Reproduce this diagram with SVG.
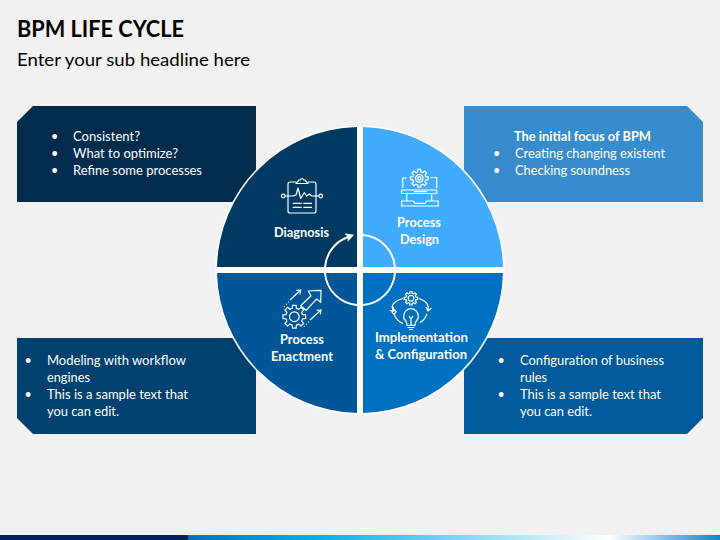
<svg xmlns="http://www.w3.org/2000/svg" xmlns:xlink="http://www.w3.org/1999/xlink" width="720" height="540" viewBox="0 0 720 540">
<style>
text{font-family:"Lato","Carlito","Open Sans",sans-serif;fill:#fff}
.title{font-size:22px;font-weight:700;fill:#000}
.sub{font-size:16.6px;fill:#000}
.t{font-size:12.6px}
.tb{font-size:12.6px;font-weight:700}
.l{font-size:12.6px;font-weight:700}
.ring{fill:none;stroke:#fff;stroke-width:2}
.ic{fill:none;stroke:#fff;stroke-width:1.2;stroke-linejoin:round}
.dot{fill:none;stroke:#fff;stroke-width:1.2;stroke-dasharray:1 2}
.g{fill:none;stroke:#fff;stroke-width:1.2;vector-effect:non-scaling-stroke}
</style>
<defs>
<linearGradient id="bar" x1="188" y1="0" x2="720" y2="0" gradientUnits="userSpaceOnUse">
<stop offset="0" stop-color="#0070c0"/>
<stop offset="0.24" stop-color="#00b0f0"/>
<stop offset="0.79" stop-color="#ffffff"/>
<stop offset="1" stop-color="#0e85d0"/>
</linearGradient>
<marker id="arrow" markerUnits="userSpaceOnUse" markerWidth="10" markerHeight="10" refX="2" refY="5" orient="auto">
<path d="M0 0.6L8.5 5L0 9.4L1.8 5Z" fill="#fff"/>
</marker>
<marker id="mini" markerUnits="userSpaceOnUse" markerWidth="7" markerHeight="7" refX="5" refY="3.5" orient="auto">
<path d="M1.5 0.8L5 3.5L1.5 6.2" fill="none" stroke="#fff" stroke-width="1.1"/>
</marker>
<g id="gear">
<path class="g" d="M7.28-1.81L9.88-1.56L9.88 1.56L7.28 1.81L6.43 3.86L8.09 5.88L5.88 8.09L3.86 6.43L1.81 7.28L1.56 9.88L-1.56 9.88L-1.81 7.28L-3.86 6.43L-5.88 8.09L-8.09 5.88L-6.43 3.86L-7.28 1.81L-9.88 1.56L-9.88-1.56L-7.28-1.81L-6.43-3.86L-8.09-5.88L-5.88-8.09L-3.86-6.43L-1.81-7.28L-1.56-9.88L1.56-9.88L1.81-7.28L3.86-6.43L5.88-8.09L8.09-5.88L6.43-3.86Z"/>
<circle class="g" r="4.2"/>
</g>
</defs>
<rect width="720" height="540" fill="#f1f1f1"/>
<g id="header">
<text class="title" x="17" y="37" textLength="167" lengthAdjust="spacingAndGlyphs">BPM LIFE CYCLE</text>
<text class="sub" x="17" y="65.5" textLength="233" lengthAdjust="spacingAndGlyphs">Enter your sub headline here</text>
</g>
<g id="box-top-left">
<path d="M33 106H256V202H17V122Z" fill="#012c4e"/>
<text class="t" x="51" y="140.500">•</text><text class="t" x="51" y="157.500">•</text><text class="t" x="51" y="174.500">•</text>
<text class="t" x="73" y="140.500" textLength="67" lengthAdjust="spacingAndGlyphs">Consistent?</text>
<text class="t" x="73" y="157.500" textLength="105" lengthAdjust="spacingAndGlyphs">What to optimize?</text>
<text class="t" x="73" y="174.500" textLength="129" lengthAdjust="spacingAndGlyphs">Refine some processes</text>
</g>
<g id="box-top-right">
<path d="M464 106H687L703 122V202H464Z" fill="#368ccc"/>
<text class="tb" x="514" y="140.500" textLength="137" lengthAdjust="spacingAndGlyphs">The initial focus of BPM</text>
<text class="t" x="493" y="157.500">•</text><text class="t" x="493" y="174.500">•</text>
<text class="t" x="515" y="157.500" textLength="150" lengthAdjust="spacingAndGlyphs">Creating changing existent</text>
<text class="t" x="515" y="174.500" textLength="115" lengthAdjust="spacingAndGlyphs">Checking soundness</text>
</g>
<g id="box-bottom-left">
<path d="M17 338H256V434H33L17 418Z" fill="#004170"/>
<text class="t" x="24.500" y="365">•</text><text class="t" x="24.500" y="399">•</text>
<text class="t" x="47" y="365" textLength="139" lengthAdjust="spacingAndGlyphs">Modeling with workflow</text>
<text class="t" x="47" y="382" textLength="43" lengthAdjust="spacingAndGlyphs">engines</text>
<text class="t" x="47" y="399" textLength="141" lengthAdjust="spacingAndGlyphs">This is a sample text that</text>
<text class="t" x="47" y="416" textLength="72" lengthAdjust="spacingAndGlyphs">you can edit.</text>
</g>
<g id="box-bottom-right">
<path d="M464 338H703V418L687 434H464Z" fill="#005a9b"/>
<text class="t" x="497.500" y="365">•</text><text class="t" x="497.500" y="399">•</text>
<text class="t" x="520" y="365" textLength="144" lengthAdjust="spacingAndGlyphs">Configuration of business</text>
<text class="t" x="520" y="382" textLength="27" lengthAdjust="spacingAndGlyphs">rules</text>
<text class="t" x="520" y="399" textLength="141" lengthAdjust="spacingAndGlyphs">This is a sample text that</text>
<text class="t" x="520" y="416" textLength="72" lengthAdjust="spacingAndGlyphs">you can edit.</text>
</g>
<circle cx="360" cy="270" r="144.6" fill="#fff"/>
<g id="diagnosis">
<path d="M357 267V127.03A143 143 0 0 0 217.03 267Z" fill="#003a63"/>
<path class="ic" d="M296 182H290Q288 182 288 184V211Q288 213 290 213H314Q316 213 316 211V184Q316 182 314 182H308M296 183.5H308L305 180H303.5Q302 176.500 300.500 180H299Z"/>
<path class="ic" d="M285 196H293L296 195L298 188L300.700 198.500L304.300 192.700L306.700 196L309.300 194L311.700 196H319"/>
<circle class="ic" cx="283.300" cy="196" r="1.800"/><circle class="ic" cx="320.700" cy="196" r="1.800"/>
<path class="ic" d="M292.700 203.300H301.700M303.300 203.300H312M292.700 207.300H301.700M303.300 207.300H312"/>
<text class="l" x="274" y="237" textLength="55" lengthAdjust="spacingAndGlyphs">Diagnosis</text>
</g>
<g id="process-design">
<path d="M363 267V127.03A143 143 0 0 1 502.97 267Z" fill="#41acff"/>
<use xlink:href="#gear" href="#gear" transform="translate(419.300 178.300) scale(0.9)"/>
<circle class="ic" cx="419.300" cy="178.300" r="1.600"/>
<path class="ic" d="M402.700 188V178H407M436.700 188V177.500H430.500"/>
<path class="ic" d="M401.700 190H436.700V193.500H401.700ZM406.700 193.500V201M431.700 193.500V201M414 191.700H427"/>
<path class="ic" d="M401.700 201H413.500L415 203.300H425L426.700 201H438.300V206H401.700Z"/>
<text class="l" x="397" y="227" textLength="44" lengthAdjust="spacingAndGlyphs">Process</text>
<text class="l" x="400" y="244" textLength="39" lengthAdjust="spacingAndGlyphs">Design</text>
</g>
<g id="process-enactment">
<path d="M357 273V412.97A143 143 0 0 1 217.03 273Z" fill="#005696"/>
<use xlink:href="#gear" href="#gear" transform="translate(294.300 316.700) scale(1.150)"/>
<path class="ic" d="M300.700 305.700L311 295.700L308.300 291L321 290.300L320.700 302.300L316.700 299L306 310.300Z"/>
<path class="ic" marker-end="url(#mini)" d="M290 300L300.700 290"/>
<path class="ic" marker-end="url(#mini)" d="M310 320L321 310"/>
<path class="dot" d="M284 306.700L289 301.500M304 326.700L309 321.500"/>
<text class="l" x="280" y="344" textLength="44" lengthAdjust="spacingAndGlyphs">Process</text>
<text class="l" x="271" y="361" textLength="62" lengthAdjust="spacingAndGlyphs">Enactment</text>
</g>
<g id="implementation">
<path d="M363 273V412.97A143 143 0 0 0 502.97 273Z" fill="#0070c0"/>
<use xlink:href="#gear" href="#gear" transform="translate(411 298.300) scale(0.680)"/>
<path class="ic" d="M407 325.300Q407 322 405 320Q403.500 318.500 403.700 316A7.300 7.300 0 0 1 418.300 316Q418.500 318.500 417 320Q415 322 415 325.300ZM407.500 327.500H414.500M409 329.500H413M409 316L411 319L413 316M411 319V325"/>
<path class="ic" marker-end="url(#mini)" d="M403 298.500C393 301 390 307 394 311"/>
<path class="ic" d="M394 314C396 319 399 322 403 323.500"/>
<path class="ic" marker-end="url(#mini)" d="M419 298.500C427 301 429 306 428 311"/>
<path class="ic" d="M427 314C425 319 423 321 420 322.500"/>
<path d="M394 309.300L396.200 311.800L394 314.300L391.800 311.800Z" class="ic"/>
<text class="l" x="375" y="342" textLength="93" lengthAdjust="spacingAndGlyphs">Implementation</text>
<text class="l" x="375" y="359" textLength="92" lengthAdjust="spacingAndGlyphs">&amp; Configuration</text>
</g>
<g id="connectors">
<path class="ring" marker-end="url(#arrow)" d="M325 267A35 35 0 0 1 348 237"/>
<path class="ring" d="M363 235.100A35 35 0 0 1 395 267M395 273A35 35 0 0 1 363 305M357 305A35 35 0 0 1 325 273"/>
</g>
<g id="footer">
<rect x="0" y="535" width="188" height="5" fill="#002060"/>
<rect x="188" y="535" width="532" height="5" fill="url(#bar)"/>
</g>
</svg>
